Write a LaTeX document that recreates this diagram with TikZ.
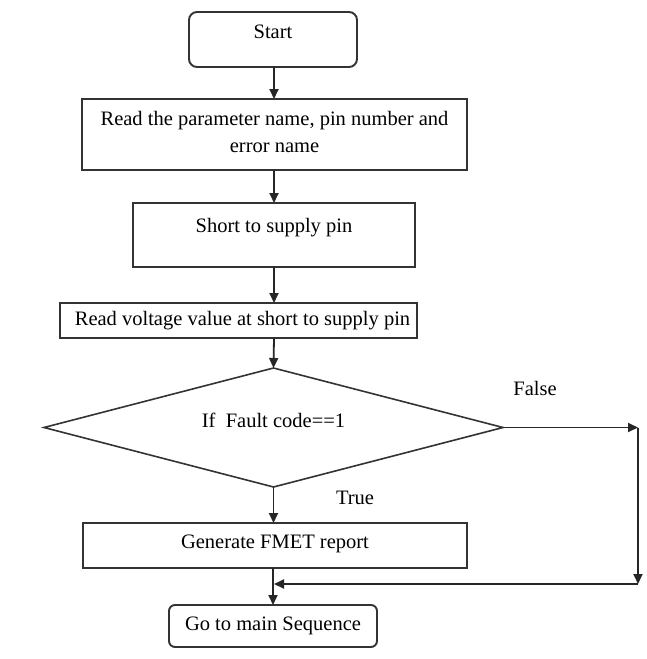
\documentclass[tikz,border=0pt]{standalone}
\usepackage{fontspec}
\setmainfont{Liberation Serif}
\usetikzlibrary{shapes.geometric,arrows.meta}

\begin{document}
\begin{tikzpicture}[x=1pt,y=-1pt,
  every node/.style={font=\fontsize{20.5}{27}\selectfont, text=black},
  box/.style={draw=black!80, line width=1.9pt, fill=white, rectangle,
    inner sep=0pt, outer sep=0pt, align=center},
  terminal/.style={box, rounded corners=8pt},
  decision/.style={draw=black!80, line width=1.6pt, diamond, aspect=3.86,
    inner sep=0pt, outer sep=0pt},
  flow/.style={draw=black!85, line width=1.8pt,
    -{Triangle[length=10pt,width=9pt]}},
  tag/.style={inner sep=0pt}
]
  % canvas
  \fill[white] (0,0) rectangle (647,659);
  \useasboundingbox (0,0) rectangle (647,659);

  % process steps
  \node[terminal, minimum width=168pt, minimum height=55pt, text depth=15pt]
    (start) at (273,39.5) {Start};
  \node[box, minimum width=385pt, minimum height=71pt, text depth=6pt]
    (read) at (274.5,134.5) {Read the parameter name, pin number and\\error name};
  \node[box, minimum width=282pt, minimum height=64pt, text depth=20pt]
    (short) at (274,235) {Short to supply pin};
  \node[box, minimum width=357pt, minimum height=35pt]
    (volt) at (238.5,320.5) {\hspace*{8pt}Read voltage value at short to supply pin};
  \node[decision, minimum width=459pt, minimum height=119pt, text depth=15pt]
    (test) at (273.5,427.5) {If\ \ Fault code==1};
  \node[box, minimum width=384pt, minimum height=45pt, text depth=7pt]
    (report) at (275,545.5) {Generate FMET report};
  \node[terminal, rounded corners=6pt, minimum width=208pt, minimum height=42pt]
    (main) at (273,626) {Go to main Sequence};

  % branch labels
  \node[tag] (lfalse) at (535,388) {False};
  \node[tag] (ltrue) at (355,498) {True};

  % route of the False branch
  \coordinate (fcorner) at (638,427.5);
  \coordinate (fdown) at (638,584);
  \coordinate (fjoin) at (274,584);

  % main sequence
  \draw[flow] (start.south -| 274,0) -- (read.north -| 274,0);
  \draw[flow] (read.south -| 274,0) -- (short.north -| 274,0);
  \draw[flow] (short.south -| 274,0) -- (volt.north -| 274,0);
  \draw[flow] (volt.south -| 274,0) -- (test.north);
  \draw[flow] (test.south) -- (report.north -| test.south);
  \draw[flow] (report.south -| 273,0) -- (main.north -| 273,0);

  % False branch
  \draw[flow] (test.east) -- (fcorner);
  \draw[flow] (fcorner) -- (fdown);
  \draw[flow] (fdown) -- (fjoin);
\end{tikzpicture}
\end{document}
